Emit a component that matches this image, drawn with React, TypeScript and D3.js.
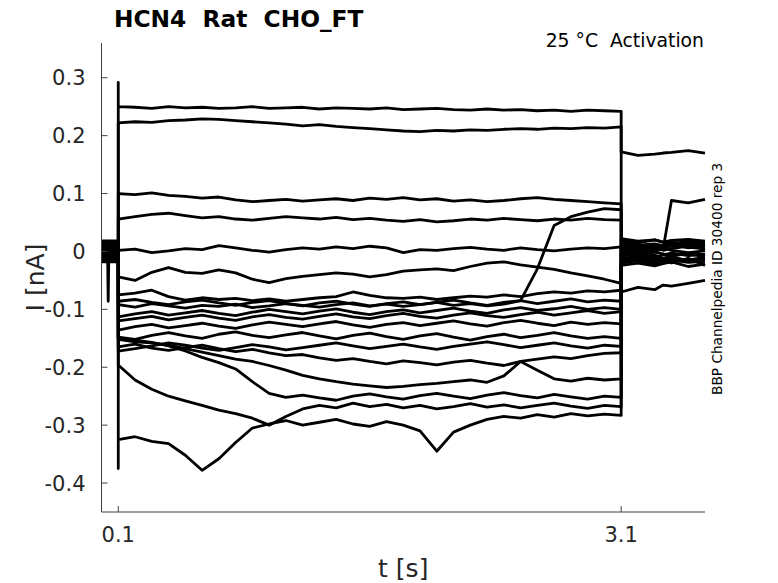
import * as d3 from 'd3'

const titleText = 'HCN4  Rat  CHO_FT'
const conditionText = '25 °C  Activation'
const sourceText = 'BBP Channelpedia ID 30400 rep 3'
const xLabel = 't [s]'
const yLabel = 'I [nA]'

const xTicks = [0.1, 3.1]
const yTicks = [-0.4, -0.3, -0.2, -0.1, 0, 0.1, 0.2, 0.3]

const stepStart = 0.1
const sampleDt = 0.1
const tailTimes = [3.1, 3.2, 3.3, 3.35, 3.4, 3.5, 3.6]

// holding current before the step, one per sweep
const preLevels = [0.012, -0.008, 0.004, -0.015, 0.0, 0.018, -0.004, 0.008, -0.012, 0.015,
  -0.018, 0.006, -0.002, 0.01, -0.01, 0.002, -0.006, 0.014, -0.016]

// artefacts
const preDip = { sweep: 4, t: 0.04, value: -0.086 }
const onsetSpikes = [{ sweep: 0, value: 0.292 }, { sweep: 15, value: -0.375 }]

// currents during the step, every 0.1 s from 0.1 to 3.1 s
const sweepA = [0.250, 0.249, 0.247, 0.250, 0.248, 0.249, 0.247, 0.248, 0.250, 0.247, 0.248, 0.249, 0.246, 0.248, 0.247, 0.246,
  0.248, 0.245, 0.246, 0.247, 0.245, 0.244, 0.246, 0.244, 0.245, 0.243, 0.244, 0.242, 0.244, 0.243, 0.242]
const sweepB = [0.222, 0.224, 0.223, 0.226, 0.227, 0.229, 0.228, 0.226, 0.224, 0.222, 0.220, 0.217, 0.219, 0.216, 0.214, 0.212,
  0.210, 0.208, 0.207, 0.209, 0.208, 0.210, 0.209, 0.211, 0.212, 0.211, 0.213, 0.212, 0.214, 0.213, 0.215]
const sweepC = [0.100, 0.098, 0.101, 0.097, 0.095, 0.092, 0.094, 0.089, 0.086, 0.088, 0.090, 0.087, 0.089, 0.091, 0.088, 0.092,
  0.090, 0.093, 0.089, 0.091, 0.087, 0.089, 0.086, 0.088, 0.091, 0.093, 0.090, 0.088, 0.086, 0.084, 0.082]
const sweepD = [0.056, 0.060, 0.064, 0.066, 0.062, 0.058, 0.060, 0.056, 0.054, 0.057, 0.060, 0.058, 0.056, 0.059, 0.055, 0.057,
  0.054, 0.052, 0.055, 0.051, 0.053, 0.056, 0.054, 0.057, 0.055, 0.053, 0.056, 0.054, 0.057, 0.055, 0.054]
const sweepE = [0.002, 0.004, -0.002, 0.001, 0.005, 0.003, 0.010, 0.006, 0.002, -0.001, 0.003, 0.006, 0.004, 0.008, 0.005, 0.009,
  0.006, -0.002, 0.003, 0.002, 0.005, 0.007, 0.004, 0.002, 0.006, 0.003, 0.001, 0.004, 0.006, 0.005, 0.008]
const sweepF = [-0.044, -0.050, -0.036, -0.028, -0.036, -0.038, -0.032, -0.037, -0.048, -0.054, -0.047, -0.043, -0.040, -0.037,
  -0.039, -0.044, -0.040, -0.034, -0.032, -0.030, -0.033, -0.026, -0.020, -0.018, -0.023, -0.027, -0.031, -0.037, -0.042, -0.048, -0.055]
const sweepG = [-0.075, -0.072, -0.067, -0.078, -0.084, -0.080, -0.083, -0.081, -0.085, -0.082, -0.086, -0.083, -0.080, -0.078,
  -0.070, -0.076, -0.080, -0.081, -0.079, -0.083, -0.080, -0.077, -0.079, -0.075, -0.078, -0.073, -0.070, -0.072, -0.068, -0.070, -0.067]
const sweepH = [-0.092, -0.096, -0.090, -0.094, -0.098, -0.093, -0.095, -0.091, -0.097, -0.094, -0.090, -0.093, -0.096, -0.092,
  -0.089, -0.094, -0.091, -0.095, -0.092, -0.088, -0.093, -0.090, -0.094, -0.091, -0.085, -0.030, 0.045, 0.060, 0.068, 0.074, 0.072]
const sweepI = [-0.113, -0.108, -0.104, -0.110, -0.106, -0.102, -0.107, -0.111, -0.105, -0.100, -0.104, -0.108, -0.103, -0.099,
  -0.105, -0.109, -0.104, -0.101, -0.106, -0.102, -0.098, -0.103, -0.107, -0.101, -0.097, -0.102, -0.099, -0.095, -0.100, -0.097, -0.100]
const sweepJ = [-0.136, -0.130, -0.126, -0.132, -0.128, -0.124, -0.129, -0.133, -0.127, -0.122, -0.126, -0.130, -0.125, -0.121,
  -0.127, -0.131, -0.126, -0.123, -0.128, -0.124, -0.120, -0.125, -0.129, -0.123, -0.119, -0.124, -0.128, -0.122, -0.126, -0.123, -0.125]
const sweepK = [-0.148, -0.152, -0.145, -0.140, -0.146, -0.150, -0.143, -0.139, -0.145, -0.149, -0.144, -0.140, -0.146, -0.151,
  -0.145, -0.141, -0.147, -0.152, -0.146, -0.142, -0.148, -0.153, -0.147, -0.143, -0.149, -0.145, -0.140, -0.146, -0.150, -0.147, -0.150]
const sweepL = [-0.165, -0.160, -0.167, -0.171, -0.166, -0.162, -0.168, -0.173, -0.169, -0.175, -0.180, -0.178, -0.184, -0.188,
  -0.185, -0.190, -0.194, -0.189, -0.192, -0.196, -0.191, -0.188, -0.193, -0.197, -0.190, -0.186, -0.182, -0.185, -0.180, -0.176, -0.175]
const sweepM = [-0.150, -0.153, -0.157, -0.163, -0.172, -0.183, -0.192, -0.203, -0.225, -0.245, -0.252, -0.248, -0.253, -0.257,
  -0.250, -0.246, -0.251, -0.255, -0.249, -0.245, -0.250, -0.254, -0.248, -0.244, -0.249, -0.253, -0.247, -0.251, -0.255, -0.250, -0.252]
const sweepN = [-0.196, -0.222, -0.238, -0.250, -0.258, -0.266, -0.274, -0.280, -0.288, -0.300, -0.285, -0.272, -0.266, -0.270,
  -0.262, -0.268, -0.264, -0.270, -0.266, -0.272, -0.268, -0.263, -0.269, -0.265, -0.270, -0.266, -0.262, -0.267, -0.271, -0.266, -0.268]
const sweepO = [-0.152, -0.156, -0.158, -0.162, -0.168, -0.174, -0.180, -0.186, -0.190, -0.197, -0.205, -0.214, -0.220, -0.225,
  -0.229, -0.232, -0.235, -0.233, -0.230, -0.228, -0.225, -0.222, -0.226, -0.215, -0.190, -0.205, -0.220, -0.224, -0.219, -0.222, -0.220]
const sweepP = [-0.325, -0.320, -0.328, -0.332, -0.352, -0.378, -0.358, -0.330, -0.305, -0.298, -0.292, -0.300, -0.295, -0.290,
  -0.298, -0.302, -0.294, -0.300, -0.310, -0.345, -0.312, -0.300, -0.290, -0.285, -0.288, -0.282, -0.286, -0.280, -0.284, -0.281, -0.283]
const sweepQ = [-0.120, -0.116, -0.112, -0.118, -0.114, -0.110, -0.115, -0.119, -0.113, -0.109, -0.114, -0.117, -0.112, -0.108,
  -0.113, -0.116, -0.111, -0.107, -0.112, -0.115, -0.110, -0.106, -0.111, -0.114, -0.109, -0.105, -0.110, -0.106, -0.102, -0.107, -0.104]
const sweepR = [-0.086, -0.083, -0.088, -0.092, -0.087, -0.084, -0.089, -0.093, -0.088, -0.085, -0.090, -0.094, -0.089, -0.086,
  -0.091, -0.095, -0.090, -0.087, -0.092, -0.088, -0.084, -0.089, -0.093, -0.088, -0.085, -0.090, -0.086, -0.082, -0.087, -0.084, -0.086]
const sweepS = [-0.172, -0.168, -0.163, -0.158, -0.162, -0.167, -0.171, -0.166, -0.161, -0.165, -0.170, -0.166, -0.162, -0.158,
  -0.163, -0.168, -0.164, -0.160, -0.165, -0.169, -0.164, -0.160, -0.156, -0.161, -0.166, -0.162, -0.158, -0.163, -0.167, -0.162, -0.164]

// tail currents after the step (at tailTimes)
const tailA = [0.172, 0.166, 0.168, 0.170, 0.171, 0.174, 0.170]
const tailB = [0.012, 0.008, 0.010, 0.006, 0.009, 0.012, 0.010]
const tailC = [0.018, 0.015, 0.020, 0.016, 0.014, 0.017, 0.015]
const tailD = [0.004, 0.000, 0.003, 0.006, 0.002, -0.002, 0.001]
const tailE = [-0.008, -0.004, -0.010, -0.006, -0.003, -0.007, -0.005]
const tailF = [-0.015, -0.012, -0.018, -0.014, -0.010, -0.016, -0.013]
const tailG = [0.010, 0.006, 0.004, 0.008, 0.011, 0.007, 0.005]
const tailH = [0.002, -0.002, 0.001, 0.004, 0.088, 0.084, 0.090]
const tailI = [-0.020, -0.016, -0.022, -0.018, -0.015, -0.019, -0.017]
const tailJ = [0.022, 0.018, 0.020, 0.016, 0.019, 0.021, 0.018]
const tailK = [-0.002, -0.006, -0.001, -0.004, -0.008, -0.003, -0.006]
const tailL = [-0.012, -0.009, -0.014, -0.020, -0.011, -0.015, -0.010]
const tailM = [0.006, 0.003, 0.008, 0.002, 0.005, 0.009, 0.004]
const tailN = [-0.024, -0.020, -0.025, -0.021, -0.018, -0.026, -0.022]
const tailO = [0.014, 0.011, 0.013, 0.010, 0.016, 0.012, 0.014]
const tailP = [-0.070, -0.062, -0.066, -0.058, -0.060, -0.055, -0.050]
const tailQ = [-0.004, -0.010, -0.006, -0.012, -0.007, -0.004, -0.009]
const tailR = [0.008, 0.012, 0.005, 0.009, 0.013, 0.006, 0.010]
const tailS = [-0.018, -0.014, -0.010, -0.016, -0.020, -0.012, -0.024]

const steps = [sweepA, sweepB, sweepC, sweepD, sweepE, sweepF, sweepG, sweepH, sweepI, sweepJ,
  sweepK, sweepL, sweepM, sweepN, sweepO, sweepP, sweepQ, sweepR, sweepS]
const tails = [tailA, tailB, tailC, tailD, tailE, tailF, tailG, tailH, tailI, tailJ,
  tailK, tailL, tailM, tailN, tailO, tailP, tailQ, tailR, tailS]

const width = 778
const height = 583
const margin = { top: 43, right: 73, bottom: 71, left: 101.5 }
const font = '"DejaVu Sans", "Liberation Sans", sans-serif'
const axisColor = '#404040'
const textColor = '#262626'

export default function App() {
  const x = d3.scaleLinear().domain([0, 3.6]).range([margin.left, width - margin.right])
  const y = d3.scaleLinear().domain([-0.45, 0.36]).range([height - margin.bottom, margin.top])

  const line = d3.line<[number, number]>()
    .x(d => x(d[0]))
    .y(d => y(d[1]))

  const sweeps = steps.map((step, k) => {
    const hold = preLevels[k]
    const pts: [number, number][] = [[0, hold]]
    if (preDip.sweep === k) {
      pts.push([preDip.t - 0.004, hold], [preDip.t, preDip.value], [preDip.t + 0.004, hold])
    }
    pts.push([stepStart, hold])
    onsetSpikes.filter(s => s.sweep === k).forEach(s => pts.push([stepStart, s.value]))
    step.forEach((v, i) => pts.push([stepStart + i * sampleDt, v]))
    tails[k].forEach((v, i) => pts.push([tailTimes[i], v]))
    return pts
  })

  const x0 = margin.left
  const yb = height - margin.bottom
  const pre = { whiteSpace: 'pre' as const }

  return (
    <svg width={width} height={height} style={{ position: 'absolute', left: 0, top: 0, background: '#fff' }}>
      <style>{'body{margin:0}'}</style>

      <g>
        {sweeps.map((pts, k) => (
          <path key={k} d={line(pts) ?? ''} fill="none" stroke="#000" strokeWidth={2.8}
            strokeLinejoin="round" />
        ))}
      </g>

      {/* axes */}
      <line x1={x0} x2={x0} y1={margin.top} y2={yb} stroke={axisColor} strokeWidth={1} />
      <line x1={x0} x2={width - margin.right} y1={yb} y2={yb} stroke={axisColor} strokeWidth={1} />
      {yTicks.map(t => (
        <g key={t}>
          <line x1={x0} x2={x0 + 6} y1={y(t)} y2={y(t)} stroke={axisColor} />
          <text x={x0 - 16} y={y(t)} dy="0.36em" textAnchor="end" fontFamily={font} fontSize={21} fill={textColor}>
            {t === 0 ? '0' : t.toFixed(1)}
          </text>
        </g>
      ))}
      {xTicks.map(t => (
        <g key={t}>
          <line x1={x(t)} x2={x(t)} y1={yb} y2={yb - 6} stroke={axisColor} />
          <text x={x(t)} y={542} textAnchor="middle" fontFamily={font} fontSize={21} fill={textColor}>
            {t.toFixed(1)}
          </text>
        </g>
      ))}

      <text x={(x0 + width - margin.right) / 2} y={577} textAnchor="middle" fontFamily={font} fontSize={25} fill={textColor}>
        {xLabel}
      </text>
      <text transform={`translate(44,${(margin.top + yb) / 2}) rotate(-90)`} textAnchor="middle" fontFamily={font}
        fontSize={25} fill={textColor}>
        {yLabel}
      </text>

      <text x={114} y={27} fontFamily={font} fontSize={23.3} fontWeight="bold" fill="#000" style={pre}>{titleText}</text>
      <text x={704} y={47} textAnchor="end" fontFamily={font} fontSize={18.8} fill="#000" style={pre}>{conditionText}</text>
      <text transform="translate(722,395) rotate(-90)" fontFamily={font} fontSize={13.7} fill="#000">{sourceText}</text>
    </svg>
  )
}
